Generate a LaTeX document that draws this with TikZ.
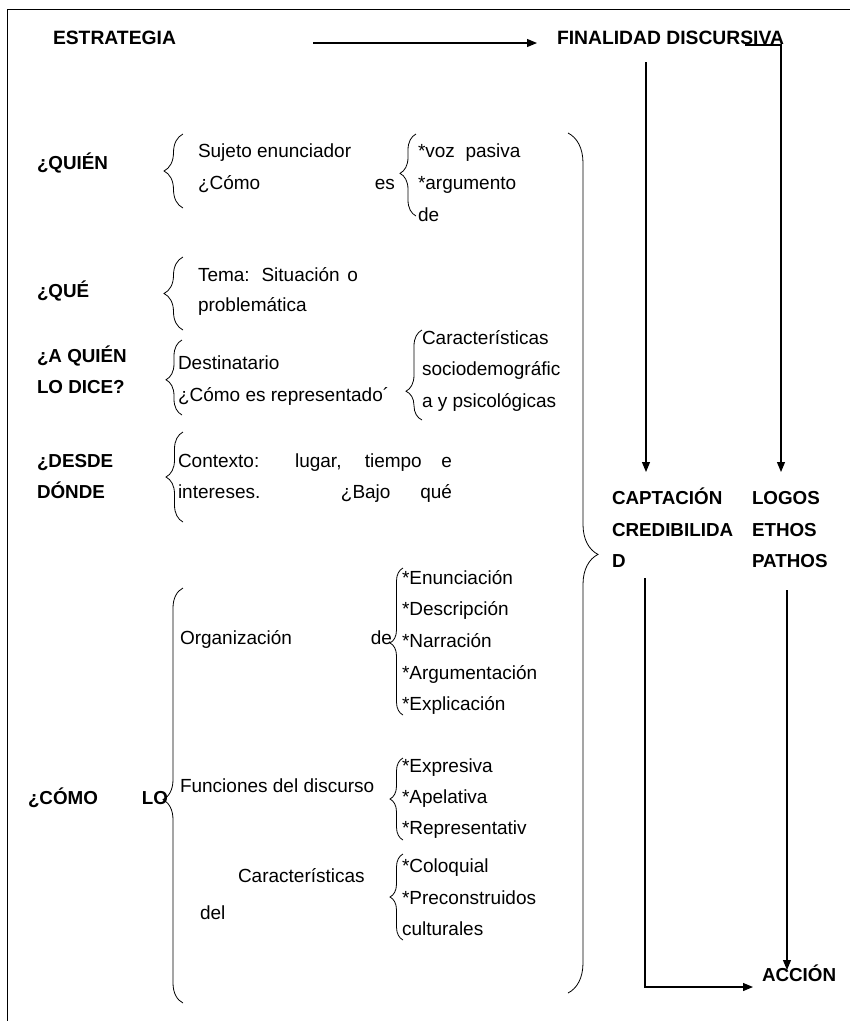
\documentclass[tikz,border=0pt]{standalone}
\usepackage{fontspec}
\setmainfont{Liberation Sans}
\usetikzlibrary{arrows.meta,decorations.pathreplacing,calc}
\begin{document}
\begin{tikzpicture}[x=1pt,y=-1pt,
  every node/.style={inner sep=0pt,outer sep=0pt},
  txt/.style={anchor=west,font=\fontsize{19}{22}\selectfont,text height=13pt,text depth=4pt},
  lbl/.style={anchor=west,font=\fontsize{18.8}{22}\selectfont\bfseries,text height=13pt,text depth=4pt},
  toplbl/.style={anchor=west,font=\fontsize{19.3}{22}\selectfont\bfseries,text height=13pt,text depth=4pt},
  brc/.style={decorate,decoration={brace,amplitude=#1},line width=0.8pt},
  arr/.style={line width=1.1pt,-{Triangle[length=10pt,width=8pt]}}
]
\useasboundingbox (0,0) rectangle (850,1021);
% frame
\draw[line width=1pt] (7,1021) -- (7,9) -- (850,9);

% top row
\node[toplbl] (estr) at (53,40) {ESTRATEGIA};
\node[toplbl] (fin) at (557,40) {FINALIDAD DISCURSIVA};
\coordinate (a1) at (313,43);
\coordinate (a2) at (537,43);
\draw[arr] (a1) -- (a2);

% QUIEN
\node[lbl] (quien) at (37,165) {¿QUIÉN};
\draw[brc=19pt,decoration={aspect=0.5}] (183,208) -- (183,134);
\node[txt] (suj) at (198,153) {Sujeto enunciador};
\node[txt] (como1) at (198,185) {\makebox[197pt][s]{¿Cómo es}};
\draw[brc=16pt,decoration={aspect=0.52}] (416,216) -- (416,134);
\node[txt] (voz) at (418,153) {*voz\ \ pasiva};
\node[txt] (argu) at (418,185) {*argumento};
\node[txt] (de1) at (418,217) {de};

% QUE
\node[lbl] (que) at (37,293) {¿QUÉ};
\draw[brc=19pt,decoration={aspect=0.5}] (183,330) -- (183,257);
\node[txt] (tema) at (198,277) {\makebox[160pt][s]{Tema: Situación o}};
\node[txt] (prob) at (198,307) {problemática};

% A QUIEN
\node[lbl] (aq1) at (37,358) {¿A QUIÉN};
\node[lbl] (aq2) at (37,389) {LO DICE?};
\draw[brc=16pt,decoration={aspect=0.47}] (182,415) -- (182,340);
\node[txt] (dest) at (178,365) {Destinatario};
\node[txt] (repr) at (178,397) {¿Cómo es representado´};
\draw[brc=16pt,decoration={aspect=0.32}] (422,420) -- (422,330);
\node[txt] (car1) at (422,340) {Características};
\node[txt] (soc) at (422,371) {sociodemográfic};
\node[txt] (psi) at (422,403) {a y psicológicas};

% DESDE DONDE
\node[lbl] (dd1) at (37,463) {¿DESDE};
\node[lbl] (dd2) at (37,494) {DÓNDE};
\draw[brc=17pt,decoration={aspect=0.5}] (183,522) -- (183,432);
\node[txt] (ctx1) at (178,463) {\makebox[274pt][s]{Contexto: lugar, tiempo e}};
\node[txt] (ctx2) at (178,494) {\makebox[274pt][s]{intereses. ¿Bajo qué}};

% COMO LO
\node[lbl] (como) at (28,800) {\makebox[140pt][s]{¿CÓMO LO}};
\draw[brc=20pt,decoration={aspect=0.49}] (183,1003) -- (183,588);
\node[txt] (org) at (180,640) {\makebox[212pt][s]{Organización de}};
\draw[brc=13pt,decoration={aspect=0.49}] (403,715) -- (403,568);
\node[txt] (enu) at (402,580) {*Enunciación};
\node[txt] (des) at (402,611) {*Descripción};
\node[txt] (nar) at (402,643) {*Narración};
\node[txt] (arg) at (402,675) {*Argumentación};
\node[txt] (exp) at (402,706) {*Explicación};

\node[txt] (fun) at (180,788) {Funciones del discurso};
\draw[brc=13pt,decoration={aspect=0.5}] (403,840) -- (403,758);
\node[txt] (exr) at (402,768) {*Expresiva};
\node[txt] (ape) at (402,799) {*Apelativa};
\node[txt] (rep) at (402,830) {*Representativ};

\node[txt] (car2) at (238,878) {Características};
\node[txt] (del) at (200,915) {del};
\draw[brc=13pt,decoration={aspect=0.5}] (403,940) -- (403,854);
\node[txt] (col) at (402,868) {*Coloquial};
\node[txt] (pre) at (402,900) {*Preconstruidos};
\node[txt] (cul) at (402,931) {culturales};

% big right brace
\draw[brc=30pt,decoration={aspect=0.49}] (568,133) -- (568,993);

% right column
\node[lbl] (capt) at (612,500) {CAPTACIÓN};
\node[lbl] (cred) at (612,532) {CREDIBILIDA};
\node[lbl] (credd) at (612,563) {D};
\node[lbl] (logos) at (752,500) {LOGOS};
\node[lbl] (ethos) at (752,532) {ETHOS};
\node[lbl] (pathos) at (752,563) {PATHOS};
\node[lbl] (acc) at (762,977) {ACCIÓN};

% connectors
\coordinate (d1s) at (646,62);
\coordinate (d1e) at (646,472);
\draw[arr] (d1s) -- (d1e);
\coordinate (d2s) at (745,45);
\coordinate (d2e) at (781,472);
\draw[arr] (d2s) -| (d2e);
\coordinate (b1s) at (645,578);
\coordinate (b1e) at (753,987);
\draw[arr] (b1s) |- (b1e);
\coordinate (b2s) at (787,590);
\coordinate (b2e) at (787,970);
\draw[arr] (b2s) -- (b2e);
\end{tikzpicture}
\end{document}
